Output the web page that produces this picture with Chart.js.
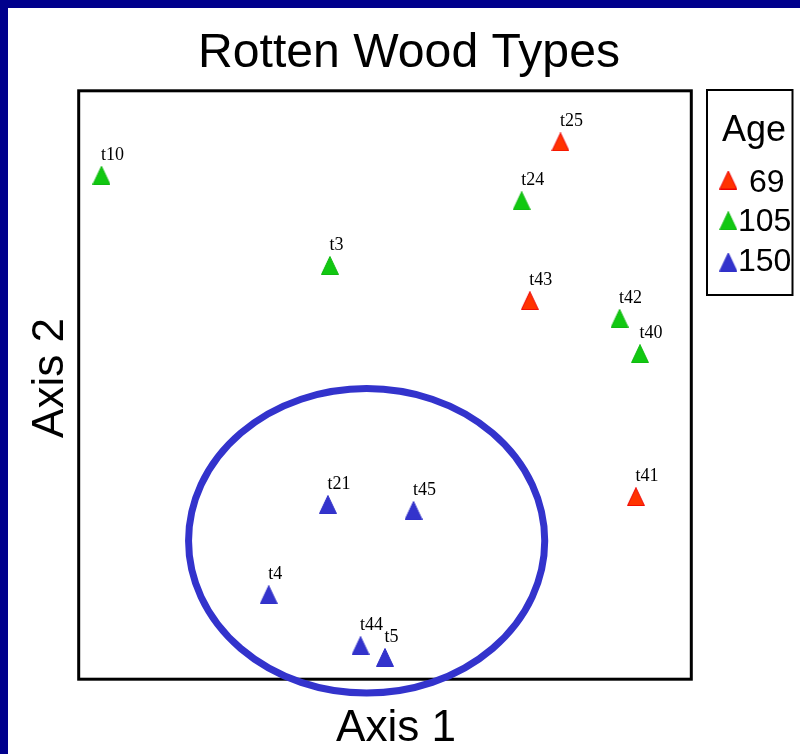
<!DOCTYPE html>
<html>
<head>
<meta charset="utf-8">
<script src="https://cdn.jsdelivr.net/npm/chart.js@4/dist/chart.umd.min.js"></script>
<style>
  html, body { margin: 0; padding: 0; background: #fff; }
  #wrap { width: 800px; height: 754px; }
</style>
</head>
<body>
<div id="wrap"><canvas id="chart" width="800" height="754"></canvas></div>
<script>
// site labels, ordination scores and stand age
const siteNames = ['t10', 't25', 't24', 't3', 't43', 't42', 't40', 't41', 't21', 't45', 't4', 't44', 't5'];
const axis1 = [-1.39, 0.86, 0.67, -0.27, 0.71, 1.15, 1.25, 1.23, -0.28, 0.14, -0.57, -0.12, 0.00];
const axis2 = [1.07, 1.24, 0.94, 0.61, 0.43, 0.34, 0.16, -0.57, -0.61, -0.64, -1.07, -1.33, -1.39];
const siteAge = [105, 69, 105, 105, 69, 105, 105, 69, 150, 150, 150, 150, 150];

const ageGroups = [69, 105, 150];
const ageFill = ['#ff3300', '#11c811', '#3333cc'];
const ageEdge = ['#ee0000', '#10b810', '#3030c8'];

// ellipse drawn round the 150 year group
const ellipseCenter = [-0.09, -0.795];
const ellipseRadii = [0.873, 0.777];

// slightly tall triangle marker, as in the original plot
function triangleImage(fill, edge) {
    const c = document.createElement('canvas');
    c.width = 18;
    c.height = 19;
    const g = c.getContext('2d');
    g.beginPath();
    g.moveTo(9, 0.5);
    g.lineTo(17.5, 18.5);
    g.lineTo(0.5, 18.5);
    g.closePath();
    g.fillStyle = fill;
    g.fill();
    g.strokeStyle = edge;
    g.lineWidth = 1;
    g.stroke();
    return c;
}
const markers = ageGroups.map((a, g) => triangleImage(ageFill[g], ageEdge[g]));

const datasets = ageGroups.map((age, g) => ({
    label: String(age),
    data: siteNames
        .map((name, i) => ({ x: axis1[i], y: axis2[i], name: name, age: siteAge[i] }))
        .filter(p => p.age === age),
    pointStyle: markers[g],
    pointRadius: 9,
    backgroundColor: ageFill[g],
    borderColor: ageEdge[g]
}));

// draw text fitted to a given width
function fitText(ctx, text, x, y, width) {
    const w = ctx.measureText(text).width;
    ctx.save();
    ctx.translate(x, y);
    ctx.scale(width / w, 1);
    ctx.fillText(text, 0, 0);
    ctx.restore();
}

const decorations = {
    id: 'decorations',
    beforeDraw(chart) {
        const ctx = chart.ctx;
        ctx.save();
        ctx.fillStyle = '#00008c';
        ctx.fillRect(0, 0, 800, 754);
        ctx.fillStyle = '#ffffff';
        ctx.fillRect(8, 8, 792, 746);
        ctx.restore();
    },
    afterDatasetsDraw(chart) {
        const ctx = chart.ctx;
        const area = chart.chartArea;
        const xs = chart.scales.x, ys = chart.scales.y;
        ctx.save();

        // frame
        ctx.strokeStyle = '#000';
        ctx.lineWidth = 3;
        ctx.strokeRect(area.left - 0.3, area.top - 0.2, area.right - area.left + 0.6, area.bottom - area.top + 0.4);

        // ellipse
        const cx = xs.getPixelForValue(ellipseCenter[0]);
        const cy = ys.getPixelForValue(ellipseCenter[1]);
        const rx = Math.abs(xs.getPixelForValue(ellipseCenter[0] + ellipseRadii[0]) - cx);
        const ry = Math.abs(ys.getPixelForValue(ellipseCenter[1] + ellipseRadii[1]) - cy);
        ctx.beginPath();
        ctx.ellipse(cx, cy, rx, ry, 0, 0, Math.PI * 2);
        ctx.strokeStyle = '#3333cc';
        ctx.lineWidth = 7;
        ctx.stroke();

        // point labels
        ctx.fillStyle = '#000';
        ctx.font = '18px "Liberation Serif"';
        ctx.textAlign = 'left';
        ctx.textBaseline = 'alphabetic';
        chart.data.datasets.forEach((ds, di) => {
            chart.getDatasetMeta(di).data.forEach((pt, i) => {
                ctx.fillText(ds.data[i].name, pt.x - 0.5, pt.y - 15.5);
            });
        });

        // titles
        ctx.font = '48px "Liberation Sans"';
        fitText(ctx, 'Rotten Wood Types', 198, 67, 422);
        ctx.font = '44px "Liberation Sans"';
        fitText(ctx, 'Axis 1', 336, 741, 120);
        ctx.save();
        ctx.translate(63, 438);
        ctx.rotate(-Math.PI / 2);
        fitText(ctx, 'Axis 2', 0, 0, 120);
        ctx.restore();

        // legend
        ctx.lineWidth = 2;
        ctx.strokeStyle = '#000';
        ctx.strokeRect(707, 90, 85.5, 205);
        ctx.font = '36px "Liberation Sans"';
        ctx.fillText('Age', 722, 141);
        ctx.font = '32px "Liberation Sans"';
        const rowBase = [192, 231, 271];
        const rowText = [749, 738, 738];
        const rowMark = [180, 220.7, 262];
        ageGroups.forEach((age, g) => {
            ctx.drawImage(markers[g], 719.3, rowMark[g] - 9.5);
            ctx.fillText(String(age), rowText[g], rowBase[g]);
        });
        ctx.restore();
    }
};

new Chart(document.getElementById('chart'), {
    type: 'scatter',
    data: { datasets: datasets },
    options: {
        responsive: false,
        animation: false,
        layout: { padding: { left: 79, top: 91, right: 109, bottom: 75 } },
        scales: {
            x: { type: 'linear', min: -1.5, max: 1.5, display: false },
            y: { type: 'linear', min: -1.5, max: 1.5, display: false }
        },
        plugins: {
            legend: { display: false },
            tooltip: { enabled: false }
        }
    },
    plugins: [decorations]
});
</script>
</body>
</html>
